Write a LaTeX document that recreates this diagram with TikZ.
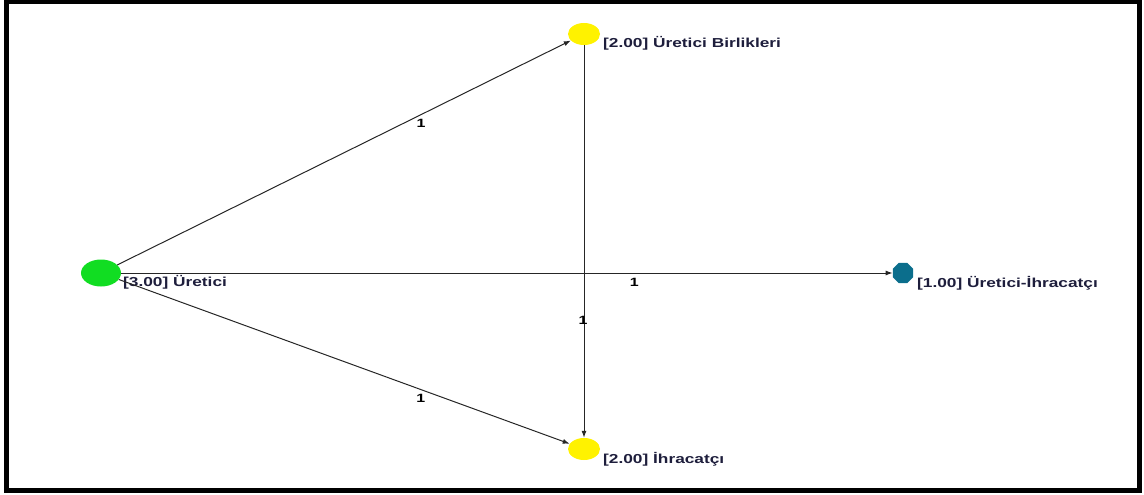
\documentclass[tikz,border=0pt]{standalone}
\usepackage{fontspec}
\setmainfont{Liberation Sans}
\newfontfamily\widefont[FakeStretch=1.33]{Liberation Sans}
\usetikzlibrary{arrows.meta,shapes.geometric}
\definecolor{txt}{HTML}{1E1E3C}
\definecolor{grn}{HTML}{11DD22}
\definecolor{yel}{HTML}{FFF200}
\definecolor{teal}{HTML}{0B6E8C}
\tikzset{
  actor/.style={ellipse,inner sep=0pt,draw=none},
  lbl/.style={anchor=west,font=\widefont\bfseries\fontsize{13}{15}\selectfont,text=txt,inner sep=0pt},
  elbl/.style={font=\widefont\bfseries\fontsize{12}{14}\selectfont,inner sep=0pt},
  link/.style={draw=black!85,line width=1pt,-{Latex[length=7pt,width=5pt]}}
}
\begin{document}
\begin{tikzpicture}[x=1pt,y=-1pt]
\useasboundingbox (0,0) rectangle (1144,495);
\draw[line width=5pt] (6,2) rectangle (1139,490);
\node[actor,fill=grn,minimum width=40pt,minimum height=27pt] (u) at (101,273) {};
\node[actor,fill=yel,minimum width=32pt,minimum height=22pt] (b) at (584,34) {};
\node[actor,fill=yel,minimum width=32pt,minimum height=22pt] (i) at (584,449) {};
\node[regular polygon,regular polygon sides=8,fill=teal,inner sep=0pt,minimum width=22pt,minimum height=19pt] (ui) at (903,273) {};
\node[lbl] (lu) at (123,282) {[3.00] Üretici};
\node[lbl] (lb) at (603,43) {[2.00] Üretici Birlikleri};
\node[lbl] (lui) at (917,283) {[1.00] Üretici-İhracatçı};
\node[lbl] (li) at (603,459) {[2.00] İhracatçı};
\draw[link] (u) -- (b) node[elbl,pos=0.67,yshift=-9pt] (e1) {1};
\draw[link] (u) -- (ui) node[elbl,pos=0.665,yshift=-9pt] (e2) {1};
\draw[link] (u) -- (i) node[elbl,pos=0.67,yshift=-9pt] (e3) {1};
\draw[link] (b) -- (i) node[elbl,pos=0.7,xshift=-1pt] (e4) {1};
\end{tikzpicture}
\end{document}
